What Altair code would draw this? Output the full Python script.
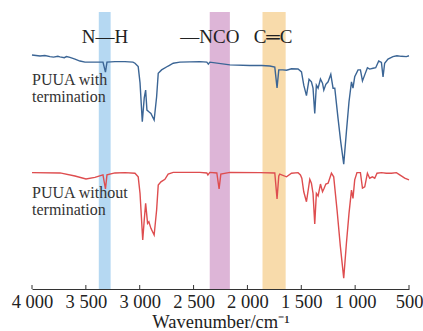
import altair as alt
import pandas as pd

# FTIR spectra (wavenumber in cm^-1, offset transmittance in a.u.)
with_wn = [4000, 3926, 3880, 3833, 3800, 3760, 3740, 3700, 3680, 3648, 3601, 3555, 3508,
           3416, 3341, 3318, 3304, 3230, 3137, 3063, 3044, 3014, 2997, 2976, 2958, 2945,
           2933, 2915, 2896, 2866, 2843, 2828, 2797, 2736, 2689, 2627, 2442, 2377, 2363,
           2349, 2163, 1978, 1867, 1792, 1746, 1725, 1709, 1672, 1637, 1591, 1530, 1498,
           1477, 1452, 1428, 1406, 1391, 1375, 1360, 1344, 1322, 1303, 1291, 1272, 1251,
           1226, 1205, 1189, 1159, 1134, 1106, 1081, 1057, 1034, 1020, 1004, 973, 951, 932,
           911, 886, 865, 834, 809, 781, 756, 741, 726, 695, 649, 612, 571, 524, 500]
with_t = [84.5, 84.1, 84.3, 83.9, 83.7, 84.0, 83.8, 83.5, 83.9, 83.6, 83.0, 82.3, 81.9,
          81.9, 81.9, 78.3, 81.9, 82.1, 82.1, 81.9, 81.5, 80.3, 74.4, 60.4, 69.0, 71.8,
          64.6, 64.0, 63.4, 61.0, 69.4, 77.9, 79.1, 80.5, 81.5, 81.9, 82.1, 81.9, 81.2,
          81.9, 80.9, 80.7, 80.7, 80.5, 80.1, 72.6, 79.1, 79.1, 79.0, 79.5, 79.4, 78.4,
          73.6, 69.8, 75.7, 74.8, 72.5, 63.4, 73.6, 72.5, 75.8, 74.3, 71.8, 73.9, 74.8,
          77.5, 72.5, 72.5, 61.7, 53.2, 45.1, 56.8, 67.6, 74.8, 72.5, 76.6, 79.1, 79.1, 75.1,
          77.3, 79.9, 79.4, 79.7, 79.9, 82.3, 81.8, 76.6, 81.5, 83.0, 83.9, 84.2, 84.0, 83.9, 84.2]

without_wn = [4000, 3740, 3601, 3499, 3416, 3341, 3318, 3304, 3230, 3137, 3044, 3014, 2997,
              2972, 2958, 2945, 2927, 2915, 2896, 2866, 2843, 2828, 2803, 2766, 2736, 2689,
              2442, 2377, 2367, 2349, 2284, 2263, 2247, 2163, 1885, 1746, 1725, 1709, 1700,
              1637, 1591, 1530, 1508, 1495, 1477, 1452, 1421, 1406, 1391, 1375, 1360, 1344,
              1322, 1303, 1288, 1272, 1251, 1220, 1199, 1168, 1137, 1106, 1081, 1057, 1034,
              1020, 1004, 983, 951, 932, 911, 886, 865, 840, 818, 797, 756, 710, 663, 617,
              586, 540, 500]
without_t = [42.0, 41.9, 40.8, 39.7, 40.3, 41.2, 36.1, 41.2, 41.9, 42.0, 41.8, 40.5, 34.5,
             17.7, 24.9, 30.9, 23.7, 24.3, 21.9, 19.5, 28.5, 37.5, 38.7, 39.6, 41.5, 42.1,
             42.1, 41.9, 41.2, 42.1, 41.9, 36.1, 41.5, 42.1, 42.0, 41.9, 32.5, 40.8, 41.5,
             40.5, 41.8, 42.0, 41.2, 40.0, 35.1, 31.5, 39.6, 38.2, 34.5, 23.5, 34.5, 33.6,
             37.9, 35.1, 36.4, 37.9, 38.2, 41.8, 40.5, 28.5, 15.3, 3.9, 16.5, 27.3, 35.7,
             32.7, 39.4, 42.0, 42.0, 36.4, 36.9, 41.8, 40.0, 40.5, 40.0, 41.8, 42.0, 41.8, 41.8, 42.0,
             41.2, 40.0, 39.4]

# Highlighted absorption bands
band_names = ["N—H", "—NCO", "C═C"]
band_lo = [3270, 2163, 1645]
band_hi = [3380, 2350, 1860]
band_colors = ["#b5d8f2", "#ddb5d7", "#f8dbab"]
band_label_wn = [3323, 2349, 1762]

# Curve labels
curve_labels = ["PUUA with", "termination", "PUUA without", "termination"]
curve_label_t = [75.5, 69.3, 34.7, 28.5]

tick_values = [4000, 3500, 3000, 2500, 2000, 1500, 1000, 500]

W, H = 377, 277
FONT = "Liberation Serif"

xscale = alt.Scale(domain=[500, 4000], reverse=True, nice=False, zero=False)
yscale = alt.Scale(domain=[0, 100], nice=False, zero=False)

spec_df = pd.concat([
    pd.DataFrame({"wn": with_wn, "t": with_t, "s": "with"}),
    pd.DataFrame({"wn": without_wn, "t": without_t, "s": "without"}),
])

bands_df = pd.DataFrame({"name": band_names, "lo": band_lo, "hi": band_hi,
                         "c": band_colors, "lw": band_label_wn})

bands = alt.Chart(bands_df).mark_rect(opacity=1).encode(
    x=alt.X("lo:Q", scale=xscale,
            axis=alt.Axis(values=tick_values, ticks=False, domainColor="#333",
                          domainWidth=1, labelFont=FONT, labelFontSize=18.5,
                          labelColor="#222", labelPadding=3, grid=False,
                          labelOverlap=False, labelFlush=False, labelBound=False,
                          labelExpr="replace(format(datum.value, ','), ',', ' ')",
                          title="Wavenumber/cm⁻¹", titleFont=FONT,
                          titleFontSize=18.5, titleFontWeight="normal",
                          titleColor="#222", titlePadding=2)),
    x2="hi:Q",
    y=alt.value(0),
    y2=alt.value(H),
    color=alt.Color("c:N", scale=None),
)

band_text = alt.Chart(bands_df).mark_text(
    font=FONT, fontSize=19, color="#222", baseline="middle"
).encode(
    x=alt.X("lw:Q", scale=xscale),
    y=alt.value(25),
    text="name:N",
)

ticks = alt.Chart(pd.DataFrame({"v": tick_values})).mark_rule(
    color="#333", strokeWidth=1
).encode(
    x=alt.X("v:Q", scale=xscale),
    y=alt.value(H - 4),
    y2=alt.value(H),
)

lines = alt.Chart(spec_df).mark_line(strokeWidth=1.4).encode(
    x=alt.X("wn:Q", scale=xscale),
    y=alt.Y("t:Q", scale=yscale, axis=None),
    color=alt.Color("s:N", scale=alt.Scale(domain=["with", "without"],
                                           range=["#3b6595", "#de4d4f"]),
                    legend=None),
    order=alt.Order("wn:Q", sort="descending"),
)

labels_df = pd.DataFrame({"txt": curve_labels, "t": curve_label_t,
                          "wn": [4000] * 4})
curve_text = alt.Chart(labels_df).mark_text(
    font=FONT, fontSize=16, color="#333", align="left", baseline="middle"
).encode(
    x=alt.X("wn:Q", scale=xscale),
    y=alt.Y("t:Q", scale=yscale),
    text="txt:N",
)

chart = alt.layer(bands, ticks, lines, band_text, curve_text).properties(
    width=W, height=H,
    autosize=alt.AutoSizeParams(type="none"),
    padding={"left": 32, "top": 12, "right": 14, "bottom": 42},
    background="white",
).configure_view(stroke=None)

chart.save("out.html", embed_options={"renderer": "svg", "actions": False})
